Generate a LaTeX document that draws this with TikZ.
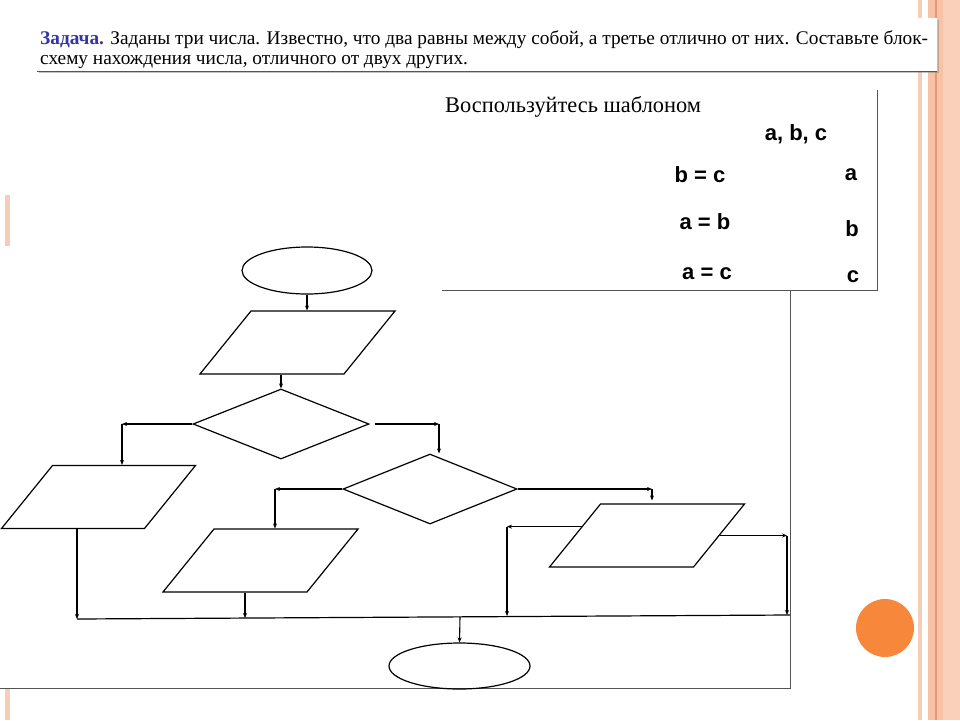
\documentclass[tikz,border=0pt]{standalone}
\usepackage{fontspec}
\setmainfont{Liberation Serif}
\newfontfamily\arialfont{Liberation Sans}
\usetikzlibrary{arrows.meta, positioning, calc, shapes.geometric, shadows}
\definecolor{stripepale}{HTML}{F6CDB8}
\definecolor{stripesalmon}{HTML}{FAD0BA}
\definecolor{stripedeep}{HTML}{F7C2A6}
\definecolor{stripeline}{HTML}{E39A72}
\definecolor{dotorange}{HTML}{F7873A}
\definecolor{taskblue}{HTML}{3434A4}
\definecolor{framegray}{HTML}{555555}

\begin{document}
\begin{tikzpicture}[x=1pt, y=-1pt,
    every node/.style={inner sep=0pt},
    term/.style={ellipse, draw, line width=1.2pt},
    io/.style={rectangle, draw, line width=1.2pt, transform shape,
               minimum width=144pt, minimum height=63pt},
    lean/.style={xslant=0.81},
    cond/.style={diamond, draw, line width=1.2pt},
    arr/.style={-{Stealth[length=5pt, width=4pt]}, line width=1.1pt},
    tmpl/.style={font=\arialfont\bfseries\fontsize{22}{24}\selectfont},
]
\useasboundingbox (0,0) rectangle (960,720);

% slide background
\fill[white] (0,0) rectangle (960,720);
\fill[stripepale] (918,0) rectangle (922,720);
\fill[stripesalmon] (928,0) rectangle (960,720);
\fill[stripedeep] (928,0) rectangle (943,720);
\draw[stripeline, line width=1.2pt] (936,0) -- (936,720);
\fill[stripepale] (5,195) rectangle (10,720);

% sheets
\fill[white] (0,246) rectangle (790,688);
\draw[framegray] (0,688) -- (790,688) -- (790,290);
\fill[white] (442,88) rectangle (877,290);
\draw[framegray] (442,290) -- (877,290) -- (877,90);

% task
\fill[white, drop shadow={shadow xshift=1.5pt, shadow yshift=-1.5pt, opacity=0.45}]
    (37,18) rectangle (937,71);
\draw[framegray] (37,71) -- (937,71);
\draw[black!25] (937,20) -- (937,71);
\node[anchor=base west, font=\fontsize{19.3}{22}\selectfont] (task1) at (40,44)
    {\textcolor{taskblue}{\textbf{Задача.}} Заданы три числа. Известно, что два равны между собой, а третье отлично от них. Составьте блок-};
\node[anchor=base west, font=\fontsize{19.3}{22}\selectfont] (task2) at (40,64)
    {схему нахождения числа, отличного от двух других.};

% template
\node[anchor=base west, font=\fontsize{22.4}{26}\selectfont] (hint) at (445,112)
    {Воспользуйтесь шаблоном};
\node[tmpl] (abc) at (796,134) {a, b, c};
\node[tmpl] (bc) at (700,175) {b = c};
\node[tmpl] (va) at (851,175) {a};
\node[tmpl] (ab) at (705,222) {a = b};
\node[tmpl] (vb) at (852,229) {b};
\node[tmpl] (ac) at (707,274) {a = c};
\node[tmpl] (vc) at (853,277) {c};

% flowchart
\node[term, minimum width=130pt, minimum height=47pt] (start) at (307,270.5) {};
\begin{scope}[shift={(297.5,342.5)}, lean]
  \node[io] (in1) at (0,0) {};
\end{scope}
\node[cond, minimum width=176pt, minimum height=70pt] (c1) at (281,424) {};
\begin{scope}[shift={(98.5,497)}, lean]
  \node[io, minimum width=143pt] (outa) at (0,0) {};
\end{scope}
\node[cond, minimum width=174pt, minimum height=70pt] (c2) at (430,489) {};
\begin{scope}[shift={(260.5,560.5)}, lean]
  \node[io] (outb) at (0,0) {};
\end{scope}
\begin{scope}[shift={(647,535.5)}, lean]
  \node[io] (outc) at (0,0) {};
\end{scope}
\node[term, minimum width=141pt, minimum height=46pt] (stop) at (459.5,666) {};

\coordinate (k1) at (122,424);
\coordinate (k2) at (439,424);
\coordinate (k3) at (275,489);
\coordinate (k4) at (652,489);
\coordinate (busa) at (77,619);
\coordinate (busb) at (245,618);
\coordinate (busc) at (507,616);
\coordinate (busd) at (787,615);
\coordinate (buse) at (790,615);
\coordinate (buss) at (460,617);
\coordinate (k5) at (outc.173 -| busc);
\coordinate (k6) at (outc.east -| busd);

\draw[arr] (start.south) -- (start.south |- in1.north);
\draw[arr] (c1.north |- in1.south) -- (c1.north);
\draw[arr] (c1.west) -- (k1);
\draw[arr] (k1) -- (k1 |- outa.north);
\draw[arr] ([xshift=5pt]c1.east) -- (k2);
\draw[arr] (k2) -- (k2 |- c2.north);
\draw[arr] (c2.west) -- (k3);
\draw[arr] (k3) -- (k3 |- outb.north);
\draw[arr] (c2.east) -- (k4);
\draw[arr, shorten >=3pt] (k4) -- (k4 |- outc.north);
\draw[arr] (outc.173) -- (k5);
\draw[arr] (k5) -- (busc);
\draw[arr] (outc.east) -- (k6);
\draw[arr] (k6) -- (busd);
\draw[arr] (busa |- outa.south) -- (busa);
\draw[arr] (busb |- outb.south) -- (busb);
\draw[line width=1.2pt] (busa) -- (buse);
\draw[arr] (buss) -- (stop.north);

% decoration
\fill[dotorange] (885,628) circle (29pt);

\end{tikzpicture}
\end{document}
